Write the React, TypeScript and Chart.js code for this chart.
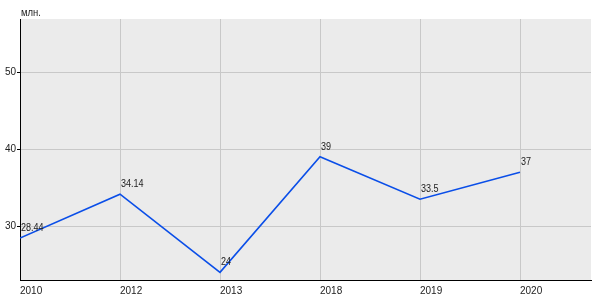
import React, { useEffect, useRef } from "react";
import { Chart, registerables } from "chart.js";

Chart.register(...registerables);

const categories = ["2010", "2012", "2013", "2018", "2019", "2020"];
const values = [28.44, 34.14, 24, 39, 33.5, 37];
const valueLabels = ["28.44", "34.14", "24", "39", "33.5", "37"];
const yTicks = [30, 40, 50];
const unitLabel = "млн.";

const FONT = "'Liberation Sans', Arial, sans-serif";
const SQUEEZE = 0.86;

export default function App() {
  const ref = useRef<HTMLCanvasElement | null>(null);

  useEffect(() => {
    document.body.style.margin = "0";
    const canvas = ref.current!;
    const drawSqueezed = (ctx: any, text: string, x: number, y: number) => {
      ctx.save();
      ctx.translate(x, y);
      ctx.scale(SQUEEZE, 1);
      ctx.fillText(text, 0, 0);
      ctx.restore();
    };
    const bgPlugin = {
      id: "bg",
      beforeDraw(chart: any) {
        const { ctx, chartArea } = chart;
        ctx.save();
        ctx.fillStyle = "#ebebeb";
        ctx.fillRect(chartArea.left, chartArea.top, chartArea.right - chartArea.left, chartArea.bottom - chartArea.top);
        ctx.restore();
      },
      afterDraw(chart: any) {
        const { ctx, chartArea } = chart;
        ctx.save();
        ctx.font = "11px " + FONT;
        ctx.fillStyle = "#222";
        ctx.textAlign = "left";
        ctx.textBaseline = "alphabetic";
        drawSqueezed(ctx, unitLabel, chartArea.left + 1, 16);
        ctx.restore();
      },
    };
    const labelPlugin = {
      id: "vlabels",
      afterDatasetsDraw(chart: any) {
        const { ctx } = chart;
        const meta = chart.getDatasetMeta(0);
        ctx.save();
        ctx.font = "10.5px " + FONT;
        ctx.fillStyle = "#222";
        ctx.textAlign = "left";
        ctx.textBaseline = "alphabetic";
        meta.data.forEach((pt: any, i: number) => {
          drawSqueezed(ctx, valueLabels[i], pt.x + 1, pt.y - 7);
        });
        ctx.restore();
      },
    };
    const chart = new Chart(canvas, {
      type: "line",
      data: {
        datasets: [
          {
            data: values.map((v, i) => ({ x: i, y: v })),
            borderColor: "#0a4ee8",
            borderWidth: 1.6,
            pointRadius: 0,
            tension: 0,
            fill: false,
          },
        ],
      },
      options: {
        animation: false,
        responsive: false,
        maintainAspectRatio: false,
        layout: { padding: { top: 19, right: 9, left: 0, bottom: 0 } },
        plugins: { legend: { display: false }, tooltip: { enabled: false } },
        scales: {
          x: {
            type: "linear",
            min: 0,
            max: 5.71,
            afterBuildTicks: (s: any) => {
              s.ticks = categories.map((_, i) => ({ value: i }));
            },
            afterFit: (s: any) => {
              s.height = 20;
            },
            ticks: {
              callback: (v: any) => categories[v] ?? "",
              align: "start",
              maxRotation: 0,
              autoSkip: false,
              padding: 5,
              color: "#222",
              font: { family: FONT, size: 10 },
            },
            grid: { color: "#c8c8c8", drawTicks: false, lineWidth: 1 },
            border: { color: "#000", width: 1 },
          },
          y: {
            min: 23,
            max: 56.9,
            afterBuildTicks: (s: any) => {
              s.ticks = yTicks.map((v) => ({ value: v }));
            },
            afterFit: (s: any) => {
              s.width = 20;
            },
            ticks: {
              padding: 1,
              color: "#222",
              font: { family: FONT, size: 10 },
            },
            grid: { color: "#c8c8c8", tickLength: 3, tickColor: "#000", lineWidth: 1 },
            border: { color: "#000", width: 1 },
          },
        },
      },
      plugins: [bgPlugin, labelPlugin],
    });
    return () => chart.destroy();
  }, []);

  return (
    <div style={{ position: "fixed", left: 0, top: 0, width: 600, height: 300, background: "#fff" }}>
      <canvas ref={ref} width={600} height={300} style={{ width: 600, height: 300, display: "block" }} />
    </div>
  );
}
